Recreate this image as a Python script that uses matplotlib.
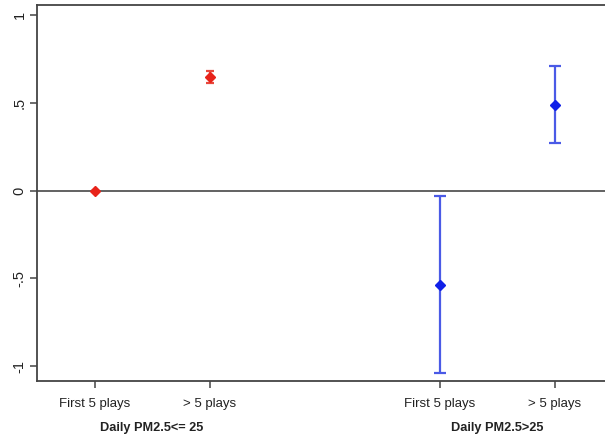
import matplotlib.pyplot as plt
import numpy as np

plt.rcParams['font.family'] = ['Liberation Sans', 'DejaVu Sans']

# Estimates and 95% CI by group
x_pos = [1, 2, 4, 5]
tick_labels = ['First 5 plays', '> 5 plays', 'First 5 plays', '> 5 plays']
group_labels = ['Daily PM2.5<= 25', 'Daily PM2.5>25']
group_centers = [1.5, 4.5]

low_est = [0.0, 0.645]
low_lo = [0.0, 0.61]
low_hi = [0.0, 0.68]

high_est = [-0.54, 0.49]
high_lo = [-1.04, 0.27]
high_hi = [-0.03, 0.71]

fig = plt.figure(figsize=(6.05, 4.41), dpi=100)
ax = fig.add_axes([37 / 605, 1 - 381 / 441, 1 - 37 / 605 + 0.001, (381 - 5) / 441])

ax.axhline(0, color='#555555', lw=1.3, zorder=1)

def draw_group(xs, est, lo, hi, bar_col, mk_col, cap):
    est = np.array(est)
    err = [est - np.array(lo), np.array(hi) - est]
    ax.errorbar(xs, est, yerr=err, fmt='none', ecolor=bar_col, elinewidth=1.6,
                capsize=cap, capthick=1.6, zorder=2)
    ax.plot(xs, est, linestyle='none', marker='D', markersize=5.5,
            color=mk_col, zorder=3)

draw_group(x_pos[:2], low_est, low_lo, low_hi, '#e8473c', '#e8231a', 3)
draw_group(x_pos[2:], high_est, high_lo, high_hi, '#4a5ae6', '#1020e8', 4.5)

ax.set_xlim(0.5, 0.5 + 568 / 115)
ax.set_ylim(-1.085, 1.057)

ax.set_yticks([-1, -0.5, 0, 0.5, 1])
ax.set_yticklabels(['-1', '-.5', '0', '.5', '1'], rotation=90, va='center',
                   fontsize=10.5)
ax.set_xticks(x_pos)
ax.set_xticklabels(tick_labels, fontsize=9.5)
ax.tick_params(axis='both', direction='out', length=5, width=1.1,
               color='#444444', labelcolor='#222222')
ax.tick_params(axis='x', pad=7)
ax.tick_params(axis='y', pad=2.5)

for i, lab in enumerate(group_labels):
    ax.text(group_centers[i], -0.125, lab, transform=ax.get_xaxis_transform(),
            ha='center', va='center', fontsize=9.2, fontweight='bold',
            color='#222222')

for side in ['left', 'top', 'bottom']:
    ax.spines[side].set_color('#444444')
    ax.spines[side].set_linewidth(1.3)
ax.spines['right'].set_visible(False)

fig.savefig('out.png', dpi=100)
